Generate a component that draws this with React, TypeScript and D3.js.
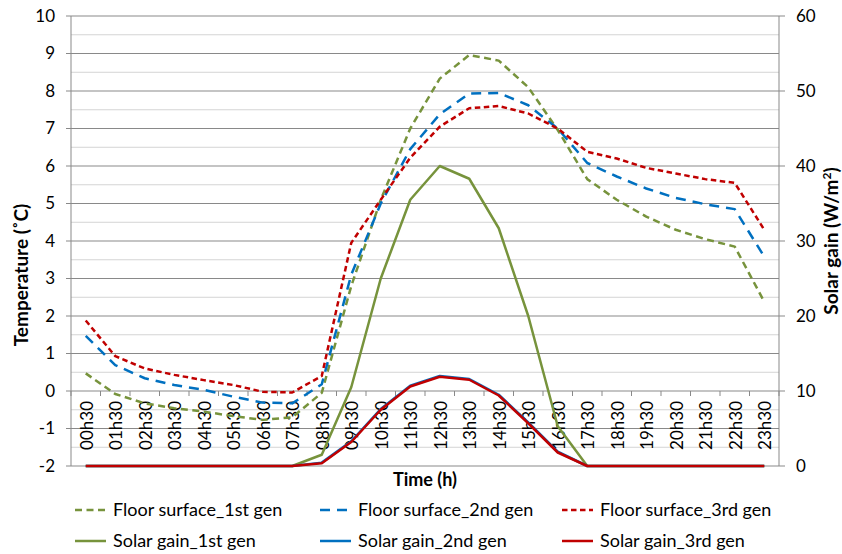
import React from "react";
import * as d3 from "d3";

const hours = ["00h30","01h30","02h30","03h30","04h30","05h30","06h30","07h30","08h30","09h30","10h30","11h30","12h30","13h30","14h30","15h30","16h30","17h30","18h30","19h30","20h30","21h30","22h30","23h30"];

const floor1 = [0.47,-0.08,-0.33,-0.46,-0.55,-0.67,-0.77,-0.7,-0.05,2.8,5.1,7.0,8.33,8.96,8.81,8.1,6.96,5.65,5.1,4.65,4.3,4.05,3.85,2.38];
const floor2 = [1.47,0.69,0.34,0.16,0.03,-0.15,-0.31,-0.33,0.18,3.1,5.0,6.45,7.38,7.93,7.95,7.62,7.0,6.08,5.72,5.4,5.15,4.98,4.85,3.58];
const floor3 = [1.88,0.93,0.6,0.43,0.29,0.16,-0.02,-0.04,0.4,3.95,5.1,6.22,7.05,7.54,7.6,7.4,7.0,6.38,6.2,5.95,5.8,5.65,5.55,4.3];

const solar1 = [0,0,0,0,0,0,0,0,1.5,10.5,25,35.5,40,38.3,31.7,20,5.3,0,0,0,0,0,0,0];
const solar2 = [0,0,0,0,0,0,0,0,0.45,3.3,7.6,10.7,12.0,11.6,9.5,5.8,1.9,0,0,0,0,0,0,0];
const solar3 = [0,0,0,0,0,0,0,0,0.36,3.2,7.5,10.6,11.9,11.5,9.4,5.7,1.8,0,0,0,0,0,0,0];

const tempTicks = [-2,-1,0,1,2,3,4,5,6,7,8,9,10];
const solarTicks = [0,10,20,30,40,50,60];

const GREEN = "#77933C";
const BLUE = "#0070C0";
const RED = "#C00000";
const FONT = "Lato, 'Open Sans', sans-serif";

export default function App() {
  const W = 842, H = 554;
  const left = 71, right = 779, top = 16, bottom = 466;
  const x = d3.scaleBand().domain(hours).range([left, right]);
  const yT = d3.scaleLinear().domain([-2, 10]).range([bottom, top]);
  const yS = d3.scaleLinear().domain([0, 60]).range([bottom, top]);
  const cx = (h: string) => (x(h) as number) + x.bandwidth() / 2;

  const lineT = (vals: number[]) =>
    d3.line<number>().x((_, i) => cx(hours[i])).y((v) => yT(v))(vals) as string;
  const lineS = (vals: number[]) =>
    d3.line<number>().x((_, i) => cx(hours[i])).y((v) => yS(v))(vals) as string;

  const minor = d3.range(-1.5, 10, 1);
  const zeroY = yT(0);

  const series = [
    { d: lineS(solar1), c: GREEN, dash: undefined },
    { d: lineS(solar2), c: BLUE, dash: undefined },
    { d: lineS(solar3), c: RED, dash: undefined },
    { d: lineT(floor1), c: GREEN, dash: "7,4.5" },
    { d: lineT(floor2), c: BLUE, dash: "10,7" },
    { d: lineT(floor3), c: RED, dash: "5.5,3.5" },
  ];

  const legend = [
    { label: "Floor surface_1st gen", c: GREEN, dash: "7,4.5", lx: 75, row: 0 },
    { label: "Floor surface_2nd gen", c: BLUE, dash: "10,7", lx: 320, row: 0 },
    { label: "Floor surface_3rd gen", c: RED, dash: "5.5,3.5", lx: 562, row: 0 },
    { label: "Solar gain_1st gen", c: GREEN, dash: undefined, lx: 75, row: 1 },
    { label: "Solar gain_2nd gen", c: BLUE, dash: undefined, lx: 320, row: 1 },
    { label: "Solar gain_3rd gen", c: RED, dash: undefined, lx: 562, row: 1 },
  ];

  return (
    <svg width={W} height={H} style={{ position: "absolute", left: 0, top: 0, background: "#fff" }} fontFamily={FONT}>
      <rect x={0} y={0} width={W} height={H} fill="#fff" />
      {minor.map((v) => (
        <line key={"mi" + v} x1={left} x2={right} y1={yT(v)} y2={yT(v)} stroke="#d4d4d4" strokeWidth={1} />
      ))}
      {tempTicks.map((v) => (
        <line key={"ma" + v} x1={left - 5} x2={right} y1={yT(v)} y2={yT(v)} stroke="#898989" strokeWidth={1} />
      ))}
      {solarTicks.map((v) => (
        <line key={"rt" + v} x1={right} x2={right + 6} y1={yS(v)} y2={yS(v)} stroke="#898989" strokeWidth={1} />
      ))}
      <line x1={left} x2={left} y1={top} y2={bottom} stroke="#898989" />
      <line x1={right} x2={right} y1={top} y2={bottom} stroke="#898989" />
      {d3.range(0, hours.length + 1).map((i) => {
        const xx = left + i * x.step();
        return <line key={"xt" + i} x1={xx} x2={xx} y1={zeroY} y2={zeroY + 5} stroke="#898989" />;
      })}
      {tempTicks.map((v) => (
        <text key={"lt" + v} x={55} y={yT(v)} dy="0.35em" textAnchor="end" fontSize={17} fill="#000">{v}</text>
      ))}
      {solarTicks.map((v) => (
        <text key={"rl" + v} x={796} y={yS(v)} dy="0.35em" textAnchor="start" fontSize={17} fill="#000">{v}</text>
      ))}
      {hours.map((h) => (
        <text key={h} transform={`translate(${cx(h) + 1},${zeroY + 10}) rotate(-90)`} dy="0.35em" textAnchor="end" fontSize={17} fill="#000">{h}</text>
      ))}
      {series.map((s, i) => (
        <path key={"s" + i} d={s.d} fill="none" stroke={s.c} strokeWidth={2.5} strokeDasharray={s.dash} strokeLinejoin="round" />
      ))}
      <text transform={`translate(21,275) rotate(-90)`} textAnchor="middle" dy="0.35em" fontSize={19} fontWeight="bold">Temperature (˚C)</text>
      <text transform={`translate(831,241) rotate(-90)`} textAnchor="middle" dy="0.35em" fontSize={19} fontWeight="bold">
        Solar gain (W/m<tspan dy="-7" fontSize={12}>2</tspan><tspan dy="7">)</tspan>
      </text>
      <text x={(left + right) / 2} y={480} dy="0.35em" textAnchor="middle" fontSize={18} fontWeight="bold">Time (h)</text>
      {legend.map((l) => {
        const ly = l.row === 0 ? 510 : 541;
        return (
          <g key={l.label}>
            <line x1={l.lx} x2={l.lx + 31} y1={ly} y2={ly} stroke={l.c} strokeWidth={2.5} strokeDasharray={l.dash} />
            <text x={l.lx + 38} y={ly} dy="0.35em" fontSize={18}>{l.label}</text>
          </g>
        );
      })}
    </svg>
  );
}
